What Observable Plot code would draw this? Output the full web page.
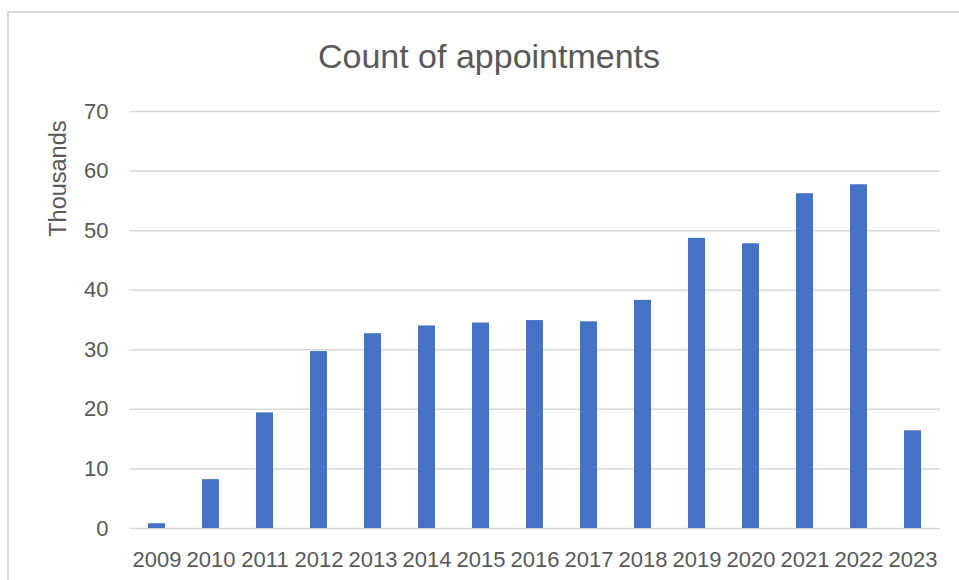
<!DOCTYPE html>
<html>
<head>
<meta charset="utf-8">
<script src="https://cdn.jsdelivr.net/npm/d3@7"></script>
<script src="https://cdn.jsdelivr.net/npm/@observablehq/plot@0.6"></script>
<style>
  html, body { margin: 0; padding: 0; background: #fff; overflow: hidden; }
  #wrap { position: relative; width: 959px; height: 580px; overflow: hidden; font-family: "Liberation Sans", Arial, sans-serif; }
  #frame { position: absolute; left: 7px; top: 11px; width: 1000px; height: 700px; border: 2px solid #d9d9d9; box-sizing: border-box; }
  #title { position: absolute; left: 0; top: 39px; width: 978px; text-align: center; font-size: 34px; line-height: 34px; color: #595959; }
  #chart { position: absolute; left: 0; top: 80px; }
</style>
</head>
<body>
<div id="wrap">
  <div id="frame"></div>
  <div id="title">Count of appointments</div>
  <div id="chart"></div>
</div>
<script>
const years = ["2009","2010","2011","2012","2013","2014","2015","2016","2017","2018","2019","2020","2021","2022","2023"];
const counts = [0.8, 8.2, 19.4, 29.7, 32.7, 34.0, 34.5, 34.9, 34.7, 38.3, 48.7, 47.8, 56.2, 57.7, 16.4];
const yTicks = [0, 10, 20, 30, 40, 50, 60, 70];
const yLabel = "Thousands";

const data = years.map((year, i) => ({year, count: counts[i]}));

const chart = Plot.plot({
  width: 959,
  height: 500,
  marginTop: 31,
  marginBottom: 52,
  marginLeft: 129,
  marginRight: 19,
  style: {fontFamily: "'Liberation Sans', Arial, sans-serif", fontSize: "22px", color: "#595959", background: "transparent", overflow: "visible"},
  x: {type: "band", domain: years, paddingInner: 0.685, paddingOuter: 0.3425, align: 0.5, label: null},
  y: {domain: [0, 70], label: null},
  marks: [
    Plot.ruleY(yTicks, {stroke: "#d9d9d9", strokeWidth: 1.5}),
    Plot.barY(data, {x: "year", y: "count", fill: "#4472C4"}),
    Plot.axisX({tickSize: 0, tickPadding: 23, label: null}),
    Plot.axisY({ticks: yTicks, tickSize: 0, tickPadding: 21, label: null}),
    Plot.text([yLabel], {text: d => d, frameAnchor: "top-left", dx: -71, dy: 9, rotate: -90, textAnchor: "end", lineAnchor: "middle", fill: "#595959", fontSize: 23.5})
  ]
});
document.getElementById("chart").appendChild(chart);
</script>
</body>
</html>
